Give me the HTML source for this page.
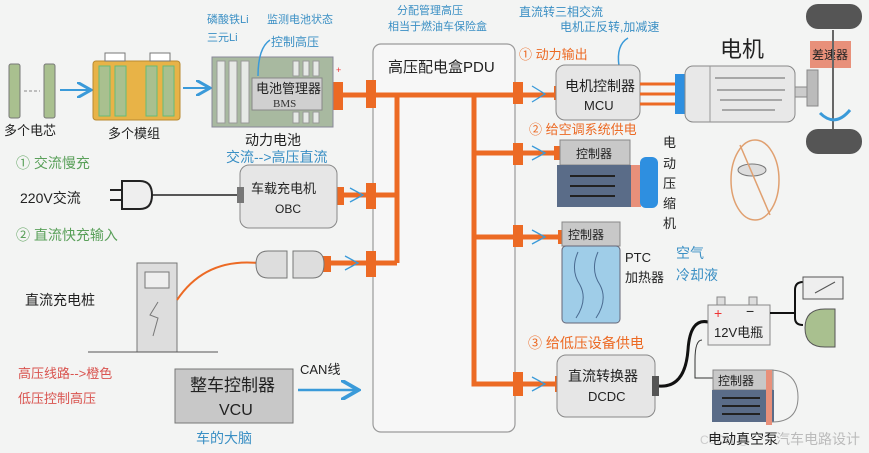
<!DOCTYPE html>
<html><head><meta charset="utf-8"><style>
html,body{margin:0;padding:0;background:#f3f4f3;}
svg{display:block;font-family:"Liberation Sans","Noto Sans CJK SC",sans-serif;}
</style></head><body>
<svg width="869" height="453" viewBox="0 0 869 453" xmlns="http://www.w3.org/2000/svg">
<defs>
<marker id="ab" markerWidth="8" markerHeight="8" refX="6" refY="4" orient="auto"><path d="M0,0 L7,4 L0,8" fill="none" stroke="#3a9ad9" stroke-width="1.5"/></marker>
</defs>
<rect width="869" height="453" fill="#f3f4f3"/>

<rect x="373" y="44" width="142" height="388" rx="8" fill="#f7f7f7" stroke="#9a9a9a" stroke-width="1.2"/>
<text x="388" y="72" font-size="15" fill="#222">高压配电盒PDU</text>
<text x="397" y="14" font-size="11" fill="#3a8fc4">分配管理高压</text>
<text x="388" y="30" font-size="11" fill="#3a8fc4">相当于燃油车保险盒</text>

<g stroke="#ec6a24" stroke-width="5" fill="none">
<path d="M337,95 H520"/>
<path d="M397,95 V263"/>
<path d="M340,195 H397"/>
<path d="M328,263 H397"/>
<path d="M474,95 V384 H555"/>
<path d="M474,153 H556"/>
<path d="M474,237 H560"/>
<path d="M520,95 H556"/>
</g>
<g fill="#ec6a24">
<rect x="366" y="80" width="10" height="28"/>
<rect x="366" y="183" width="10" height="26"/>
<rect x="366" y="251" width="10" height="26"/>
<rect x="513" y="82" width="10" height="22"/>
<rect x="513" y="143" width="10" height="22"/>
<rect x="513" y="225" width="10" height="22"/>
<rect x="513" y="372" width="10" height="24"/>
<rect x="333" y="82" width="10" height="28"/>
<rect x="336" y="187" width="8" height="18"/>
<rect x="323" y="256" width="8" height="16"/>
<rect x="554" y="86" width="6" height="14"/>
<rect x="554" y="146" width="6" height="14"/>
<rect x="558" y="230" width="6" height="14"/>
<rect x="555" y="376" width="6" height="16"/>
</g>
<g stroke="#3a9ad9" stroke-width="1.3" fill="none">
<path d="M532,86 L545,94 L532,102"/><path d="M532,146 L545,153 L532,160"/>
<path d="M532,230 L545,237 L532,244"/><path d="M532,377 L545,384 L532,391"/>
<path d="M350,188 L363,195 L350,202"/><path d="M345,256 L358,263 L345,270"/>
</g>

<rect x="9" y="64" width="11" height="54" rx="2" fill="#a9c08f" stroke="#777"/>
<rect x="44" y="64" width="11" height="54" rx="2" fill="#a9c08f" stroke="#777"/>
<path d="M24,91 H40" stroke="#888" stroke-dasharray="3,2"/>
<text x="4" y="135" font-size="13" fill="#222">多个电芯</text>
<path d="M60,90 H89" stroke="#3a9ad9" stroke-width="2" marker-end="url(#ab)"/>
<rect x="93" y="61" width="87" height="59" rx="3" fill="#e8b347" stroke="#b88a30"/>
<rect x="105" y="53" width="20" height="8" fill="#fff" stroke="#777"/><rect x="150" y="53" width="20" height="8" fill="#fff" stroke="#777"/>
<g fill="#a9c08f" stroke="#6b7"><rect x="99" y="66" width="11" height="50"/><rect x="115" y="66" width="11" height="50"/><rect x="146" y="66" width="11" height="50"/><rect x="163" y="66" width="11" height="50"/></g>
<text x="108" y="138" font-size="13" fill="#222">多个模组</text>
<path d="M183,88 H208" stroke="#3a9ad9" stroke-width="2" marker-end="url(#ab)"/>
<rect x="212" y="57" width="121" height="70" fill="#a8b9a0" stroke="#889"/>
<g fill="#e6e9e6" stroke="#999"><rect x="217" y="61" width="8" height="62"/><rect x="229" y="61" width="8" height="62"/><rect x="241" y="61" width="8" height="62"/>
<rect x="293" y="61" width="6" height="15"/><rect x="303" y="61" width="6" height="15"/><rect x="313" y="61" width="6" height="15"/>
<rect x="293" y="112" width="6" height="11"/><rect x="303" y="112" width="6" height="11"/><rect x="313" y="112" width="6" height="11"/></g>
<rect x="252" y="78" width="70" height="32" fill="#d0d0d0" stroke="#888"/>
<text x="256" y="93" font-size="13" fill="#222">电池管理器</text>
<text x="273" y="107" font-size="11" fill="#333" font-family="Liberation Serif">BMS</text>
<text x="207" y="23" font-size="11" fill="#3a8fc4">磷酸铁Li</text>
<text x="207" y="41" font-size="11" fill="#3a8fc4">三元Li</text>
<text x="267" y="23" font-size="11" fill="#3a8fc4">监测电池状态</text>
<text x="271" y="46" font-size="12" fill="#3a8fc4">控制高压</text>
<path d="M258,76 Q258,48 270,40" stroke="#3a9ad9" fill="none" stroke-width="1.5"/>
<text x="336" y="73" font-size="9" fill="#e33">+</text>
<text x="245" y="145" font-size="14" fill="#222">动力电池</text>
<text x="226" y="162" font-size="14" fill="#3a8fc4">交流--&gt;高压直流</text>

<text x="16" y="168" font-size="14" fill="#5aa05a">① 交流慢充</text>
<text x="20" y="203" font-size="14" fill="#222">220V交流</text>
<path d="M110,190 H122 M110,200 H122" stroke="#222" stroke-width="2"/>
<path d="M122,181 H140 Q152,181 152,195 Q152,209 140,209 H122 Z" fill="#eee" stroke="#222" stroke-width="2"/>
<path d="M152,195 H240" stroke="#222" stroke-width="1.5"/>
<rect x="240" y="165" width="97" height="63" rx="9" fill="#e6e6e6" stroke="#888"/>
<rect x="237" y="187" width="7" height="16" fill="#777"/>
<text x="251" y="193" font-size="13" fill="#222">车载充电机</text>
<text x="275" y="213" font-size="12" fill="#222">OBC</text>
<text x="16" y="240" font-size="14" fill="#5aa05a">② 直流快充输入</text>
<rect x="137" y="263" width="40" height="89" fill="#ddd" stroke="#777"/>
<rect x="145" y="272" width="24" height="16" fill="#eee" stroke="#777"/>
<path d="M158,302 L150,315 L158,318 L153,336" stroke="#777" fill="none"/>
<path d="M88,352 H218" stroke="#555"/>
<text x="25" y="305" font-size="14" fill="#222">直流充电桩</text>
<path d="M177,300 Q205,258 258,263" stroke="#ec6a24" stroke-width="2" fill="none"/>
<path d="M268,251 H287 V278 H268 Q256,278 256,264 Q256,251 268,251 Z" fill="#ddd" stroke="#777"/>
<path d="M293,251 H313 Q324,251 324,264 Q324,278 313,278 H293 Z" fill="#ddd" stroke="#777"/>
<text x="18" y="378" font-size="13" fill="#d9534f">高压线路--&gt;橙色</text>
<text x="18" y="403" font-size="13" fill="#d9534f">低压控制高压</text>
<rect x="175" y="369" width="118" height="54" fill="#c8c8c8" stroke="#777"/>
<text x="190" y="391" font-size="17" fill="#222">整车控制器</text>
<text x="219" y="415" font-size="16" fill="#222">VCU</text>
<text x="196" y="443" font-size="14" fill="#3a8fc4">车的大脑</text>
<text x="300" y="374" font-size="13" fill="#222">CAN线</text>
<path d="M298,390 H356" stroke="#3a9ad9" stroke-width="2.5" marker-end="url(#ab)"/>

<text x="519" y="16" font-size="12" fill="#3a8fc4">直流转三相交流</text>
<text x="560" y="31" font-size="12" fill="#3a8fc4">电机正反转,加减速</text>
<path d="M619,66 Q616,45 628,38" stroke="#3a9ad9" fill="none" stroke-width="1.5"/>
<text x="519" y="59" font-size="13" fill="#ec6a24">① 动力输出</text>
<rect x="556" y="65" width="84" height="55" rx="9" fill="#e6e6e6" stroke="#888"/>
<text x="565" y="91" font-size="14" fill="#222">电机控制器</text>
<text x="584" y="110" font-size="13" fill="#222">MCU</text>
<g stroke="#ec6a24" stroke-width="3"><path d="M640,84 H675 M640,94 H675 M640,104 H675"/></g>
<rect x="675" y="74" width="10" height="40" fill="#2e8fe0"/>
<rect x="685" y="66" width="110" height="56" rx="8" fill="#e8e8e8" stroke="#888"/>
<path d="M710,66 V122" stroke="#999"/>
<g stroke="#666"><path d="M715,78 H785 M717,90 H785 M720,100 H782 M722,110 H775"/></g>
<text x="720" y="57" font-size="22" fill="#222">电机</text>
<rect x="795" y="87" width="15" height="10" fill="#ccc" stroke="#888"/>
<rect x="807" y="70" width="11" height="36" fill="#bbb" stroke="#888"/>
<rect x="810" y="41" width="41" height="27" fill="#e8907a"/>
<text x="812" y="59" font-size="12" fill="#222">差速器</text>
<path d="M833,30 V130" stroke="#666" stroke-width="2"/>
<rect x="806" y="4" width="56" height="25" rx="12" fill="#555"/>
<rect x="806" y="129" width="56" height="25" rx="12" fill="#555"/>
<path d="M820,113 Q835,128 850,110" stroke="#3a9ad9" stroke-width="3" fill="none"/>
<ellipse cx="755" cy="180" rx="24" ry="40" fill="none" stroke="#e0a070" stroke-width="1.5"/>
<ellipse cx="752" cy="170" rx="14" ry="6" fill="#ddd" stroke="#777"/>
<path d="M740,145 L770,215" stroke="#e0a070" stroke-width="1.5"/>

<text x="529" y="134" font-size="13" fill="#ec6a24">② 给空调系统供电</text>
<rect x="560" y="140" width="70" height="25" fill="#c8c8c8" stroke="#888"/>
<text x="576" y="158" font-size="12" fill="#222">控制器</text>
<rect x="557" y="165" width="74" height="42" fill="#5a6c88"/>
<g stroke="#222" stroke-width="2"><path d="M570,176 H615 M570,186 H615 M570,196 H615"/></g>
<rect x="631" y="165" width="10" height="42" fill="#e8907a"/>
<rect x="640" y="157" width="18" height="51" rx="6" fill="#2e8fe0"/>
<g font-size="13" fill="#222"><text x="663" y="147">电</text><text x="663" y="168">动</text><text x="663" y="188">压</text><text x="663" y="208">缩</text><text x="663" y="228">机</text></g>

<rect x="562" y="222" width="58" height="24" fill="#c8c8c8" stroke="#888"/>
<text x="568" y="239" font-size="12" fill="#222">控制器</text>
<rect x="562" y="246" width="58" height="77" rx="4" fill="#9fcde8" stroke="#667"/>
<path d="M578,252 Q570,270 580,285 Q588,300 576,318 M598,252 Q590,270 600,285 Q608,300 596,318" stroke="#4a6a90" fill="none"/>
<text x="625" y="262" font-size="13" fill="#222">PTC</text>
<text x="625" y="282" font-size="13" fill="#222">加热器</text>
<text x="676" y="258" font-size="14" fill="#3a8fc4">空气</text>
<text x="676" y="280" font-size="14" fill="#3a8fc4">冷却液</text>

<text x="528" y="348" font-size="14" fill="#ec6a24">③ 给低压设备供电</text>
<rect x="557" y="355" width="98" height="62" rx="9" fill="#e6e6e6" stroke="#888"/>
<text x="568" y="381" font-size="14" fill="#222">直流转换器</text>
<text x="588" y="401" font-size="13" fill="#222">DCDC</text>
<rect x="652" y="376" width="7" height="20" fill="#555"/>
<path d="M659,386 Q685,388 688,350 Q690,318 708,322" stroke="#111" stroke-width="3" fill="none"/>
<rect x="708" y="305" width="62" height="40" fill="#eee" stroke="#888"/>
<rect x="717" y="297" width="8" height="8" fill="#ddd" stroke="#888"/><rect x="749" y="297" width="8" height="8" fill="#ddd" stroke="#888"/>
<text x="714" y="318" font-size="14" fill="#e33">+</text><text x="746" y="316" font-size="14" fill="#222">−</text>
<text x="714" y="337" font-size="13" fill="#222">12V电瓶</text>
<path d="M770,313 H795 M795,290 V318 Q795,325 803,325 M795,290 Q795,282 803,282" stroke="#111" stroke-width="2" fill="none"/>
<rect x="803" y="277" width="40" height="22" fill="#eee" stroke="#555"/>
<path d="M815,293 L835,282" stroke="#555"/>
<path d="M825,309 H835 V347 H825 Q805,347 805,328 Q805,309 825,309 Z" fill="#a9c08f" stroke="#555"/>
<path d="M702,340 Q695,340 695,360 V378 H713" stroke="#333" fill="none"/>
<rect x="713" y="370" width="60" height="20" fill="#c8c8c8" stroke="#888"/>
<text x="718" y="385" font-size="12" fill="#222">控制器</text>
<rect x="712" y="390" width="62" height="32" fill="#5a6c88"/>
<g stroke="#222" stroke-width="2"><path d="M722,398 H760 M722,406 H760 M722,414 H760"/></g>
<rect x="766" y="370" width="6" height="55" fill="#e8907a"/>
<path d="M772,370 Q798,372 798,397 Q798,422 772,422" fill="none" stroke="#888"/>
<text x="700" y="444" font-size="12" fill="#ccc">CSDN @</text>
<text x="708" y="444" font-size="14" fill="#222">电动真空泵</text>
<text x="776" y="444" font-size="14" fill="#bbb">汽车电路设计</text>
</svg>
</body></html>
